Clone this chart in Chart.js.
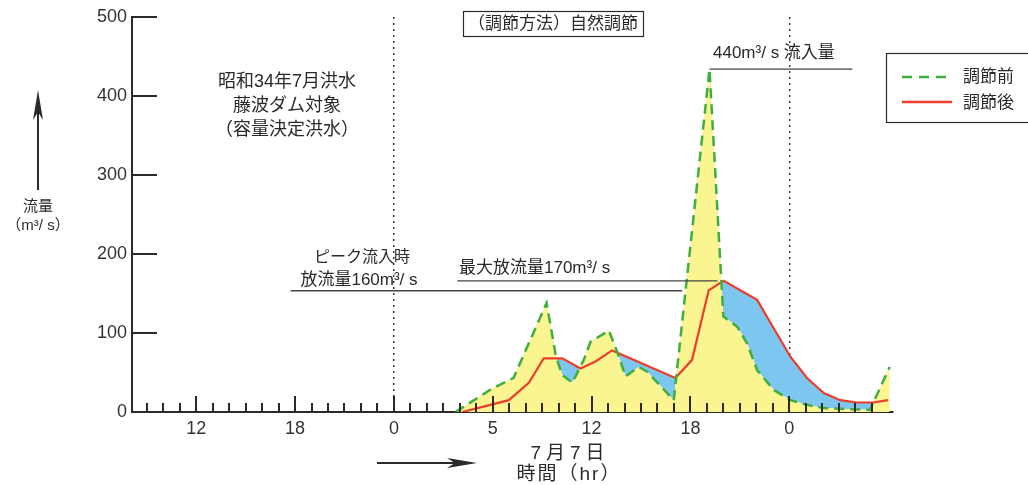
<!DOCTYPE html>
<html lang="ja">
<head>
<meta charset="utf-8">
<title>昭和34年7月洪水 藤波ダム</title>
<script src="https://cdn.jsdelivr.net/npm/chart.js@4.4.1/dist/chart.umd.min.js"></script>
<style>
html, body { margin: 0; padding: 0; background: #fff; }
canvas { display: block; }
</style>
</head>
<body>
<canvas id="floodChart" width="1028" height="485"></canvas>
<script>
// hours counted from 0:00 of 7/7
const inflowHours = [3.74, 5.99, 7.26, 9.27, 9.84, 10.22, 10.83, 11.53, 11.94, 13.05, 13.56, 14.06, 14.87, 15.38, 16.99,
    19.16, 20.0, 20.84, 21.44, 22.05, 23.06, 24.07, 25.08, 26.07, 28.9, 30.1];
const inflowValues = [0, 30, 43, 138, 70, 47, 37, 66, 89, 103, 76, 45, 57, 51, 15,
    434, 121, 108, 87, 53, 28, 15, 9, 5, 2.5, 57];

const outflowHours = [4.15, 6.98, 8.19, 9.1, 10.22, 11.33, 12.24, 13.25, 17.09, 18.1, 19.11, 20.02,
    22.05, 23.06, 24.07, 25.08, 26.1, 27.1, 28.1, 29.1, 30.0];
const outflowValues = [0, 15, 37, 68, 68, 55, 64, 78, 43, 66, 154, 166,
    142, 106, 70, 43, 24, 15, 12, 12, 15];

const tickHours = [-12, -6, 0, 6, 12, 18, 24];
const tickLabels = ['12', '18', '0', '5', '12', '18', '0'];
const dayLines = [0, 24];

// reference lines: [from hour, to hour, value]
const peakInflowLine = [19.16, 27.83, 434];
const maxOutflowLine = [3.85, 19.64, 166];
const peakOutflowLine = [-6.27, 17.5, 153.5];

const GREEN = '#3fae3c';
const RED = '#ec3d2b';
const YELLOW = 'rgb(251, 245, 145)';
const BLUE = 'rgb(125, 198, 240)';
const INK = '#2a2a2a';
const FONT = "'Liberation Sans', 'Noto Sans CJK JP', sans-serif";

function drawText(ctx, str, x, y, size, align) {
    ctx.font = size + 'px ' + FONT;
    ctx.textAlign = align || 'center';
    ctx.textBaseline = 'middle';
    ctx.fillStyle = INK;
    ctx.fillText(str, x, y);
}

function drawArrow(ctx, x1, y1, x2, y2) {
    const ang = Math.atan2(y2 - y1, x2 - x1);
    const len = 30, half = 5;
    ctx.strokeStyle = INK;
    ctx.fillStyle = INK;
    ctx.lineWidth = 2;
    ctx.beginPath();
    ctx.moveTo(x1, y1);
    ctx.lineTo(x2 - Math.cos(ang) * 10, y2 - Math.sin(ang) * 10);
    ctx.stroke();
    ctx.beginPath();
    ctx.moveTo(x2, y2);
    ctx.lineTo(x2 - Math.cos(ang) * len - Math.sin(ang) * half, y2 - Math.sin(ang) * len + Math.cos(ang) * half);
    ctx.lineTo(x2 - Math.cos(ang) * (len - 8), y2 - Math.sin(ang) * (len - 8));
    ctx.lineTo(x2 - Math.cos(ang) * len + Math.sin(ang) * half, y2 - Math.sin(ang) * len - Math.cos(ang) * half);
    ctx.closePath();
    ctx.fill();
}

const decorations = {
    id: 'decorations',
    afterDatasetsDraw(chart) {
        const ctx = chart.ctx;
        const xs = chart.scales.x;
        const ys = chart.scales.y;
        const base = ys.getPixelForValue(0);
        ctx.save();

        // hour ticks on the time axis
        ctx.strokeStyle = INK;
        ctx.lineWidth = 2;
        for (let h = -15; h <= 29; h++) {
            const px = Math.round(xs.getPixelForValue(h));
            const len = tickHours.includes(h) ? 16 : 9;
            ctx.beginPath();
            ctx.moveTo(px, base);
            ctx.lineTo(px, base - len);
            ctx.stroke();
        }
        // flow ticks pointing inward
        for (let v = 100; v <= 500; v += 100) {
            const py = Math.round(ys.getPixelForValue(v));
            ctx.beginPath();
            ctx.moveTo(xs.left, py);
            ctx.lineTo(xs.left + 25, py);
            ctx.stroke();
        }

        // reference lines
        ctx.lineWidth = 1.3;
        ctx.strokeStyle = '#444';
        [peakInflowLine, maxOutflowLine, peakOutflowLine].forEach(([a, b, v]) => {
            const py = ys.getPixelForValue(v);
            ctx.beginPath();
            ctx.moveTo(xs.getPixelForValue(a), py);
            ctx.lineTo(xs.getPixelForValue(b), py);
            ctx.stroke();
        });

        // notes
        drawText(ctx, '昭和34年7月洪水', 287, 82, 18);
        drawText(ctx, '藤波ダム対象', 287, 106, 18);
        drawText(ctx, '（容量決定洪水）', 287, 130, 18);

        ctx.lineWidth = 1.2;
        ctx.strokeStyle = INK;
        ctx.strokeRect(463.5, 11.5, 180, 25);
        drawText(ctx, '（調節方法）自然調節', 553, 24, 17);

        drawText(ctx, '440m³/ s 流入量', 713, 53, 17, 'left');
        drawText(ctx, 'ピーク流入時', 362, 258, 16);
        drawText(ctx, '放流量160m³/ s', 359, 280, 17);
        drawText(ctx, '最大放流量170m³/ s', 459, 268, 17, 'left');

        // legend
        ctx.lineWidth = 1.2;
        ctx.strokeStyle = INK;
        ctx.strokeRect(886.5, 53.5, 160, 69);
        ctx.lineWidth = 2.5;
        ctx.strokeStyle = GREEN;
        ctx.setLineDash([10, 7]);
        ctx.beginPath();
        ctx.moveTo(902, 77);
        ctx.lineTo(952, 77);
        ctx.stroke();
        ctx.setLineDash([]);
        ctx.strokeStyle = RED;
        ctx.beginPath();
        ctx.moveTo(902, 102);
        ctx.lineTo(952, 102);
        ctx.stroke();
        drawText(ctx, '調節前', 963, 77, 17, 'left');
        drawText(ctx, '調節後', 963, 103, 17, 'left');

        // axis captions
        drawArrow(ctx, 38, 190, 38, 90);
        drawText(ctx, '流量', 38, 207, 15);
        drawText(ctx, '（m³/ s）', 38, 226, 15);
        drawArrow(ctx, 377, 463, 477, 463);
        ctx.letterSpacing = '5px';
        drawText(ctx, '7月7日', 570, 454, 19);
        ctx.letterSpacing = '2px';
        drawText(ctx, '時間（hr）', 569, 475, 19);

        ctx.restore();
    }
};

new Chart(document.getElementById('floodChart'), {
    type: 'line',
    data: {
        datasets: [{
            label: '調節前',
            data: inflowHours.map((h, i) => ({ x: h, y: inflowValues[i] })),
            borderColor: GREEN,
            borderWidth: 2.5,
            borderDash: [10, 6],
            backgroundColor: YELLOW,
            fill: 'origin',
            pointRadius: 0,
            tension: 0
        }, {
            label: '調節後',
            data: outflowHours.map((h, i) => ({ x: h, y: outflowValues[i] })),
            borderColor: RED,
            borderWidth: 2.2,
            backgroundColor: BLUE,
            fill: { target: 0, above: BLUE, below: 'rgba(0,0,0,0)' },
            pointRadius: 0,
            tension: 0
        }]
    },
    options: {
        responsive: false,
        animation: false,
        layout: { padding: { left: 92, right: 135, top: 17, bottom: 0 } },
        scales: {
            x: {
                type: 'linear',
                min: -15.9,
                max: 30.3,
                afterBuildTicks: (scale) => { scale.ticks = tickHours.map(v => ({ value: v })); },
                afterFit: (scale) => { scale.height = 73; },
                ticks: {
                    autoSkip: false,
                    maxRotation: 0,
                    padding: 6,
                    color: '#333',
                    font: { family: FONT, size: 18 },
                    callback: (value, index) => tickLabels[index]
                },
                grid: {
                    drawTicks: false,
                    lineWidth: 1.4,
                    color: (c) => (c.tick && dayLines.includes(c.tick.value)) ? '#333' : 'rgba(0,0,0,0)'
                },
                border: { display: true, color: INK, width: 2, dash: [2, 4] }
            },
            y: {
                min: 0,
                max: 500,
                afterFit: (scale) => { scale.width = 40; },
                ticks: {
                    stepSize: 100,
                    padding: 5,
                    color: '#333',
                    font: { family: FONT, size: 18 }
                },
                grid: { display: false, drawTicks: false },
                border: { display: true, color: INK, width: 2 }
            }
        },
        plugins: {
            legend: { display: false },
            tooltip: { enabled: false },
            filler: { drawTime: 'beforeDatasetsDraw' }
        }
    },
    plugins: [decorations]
});
</script>
</body>
</html>
